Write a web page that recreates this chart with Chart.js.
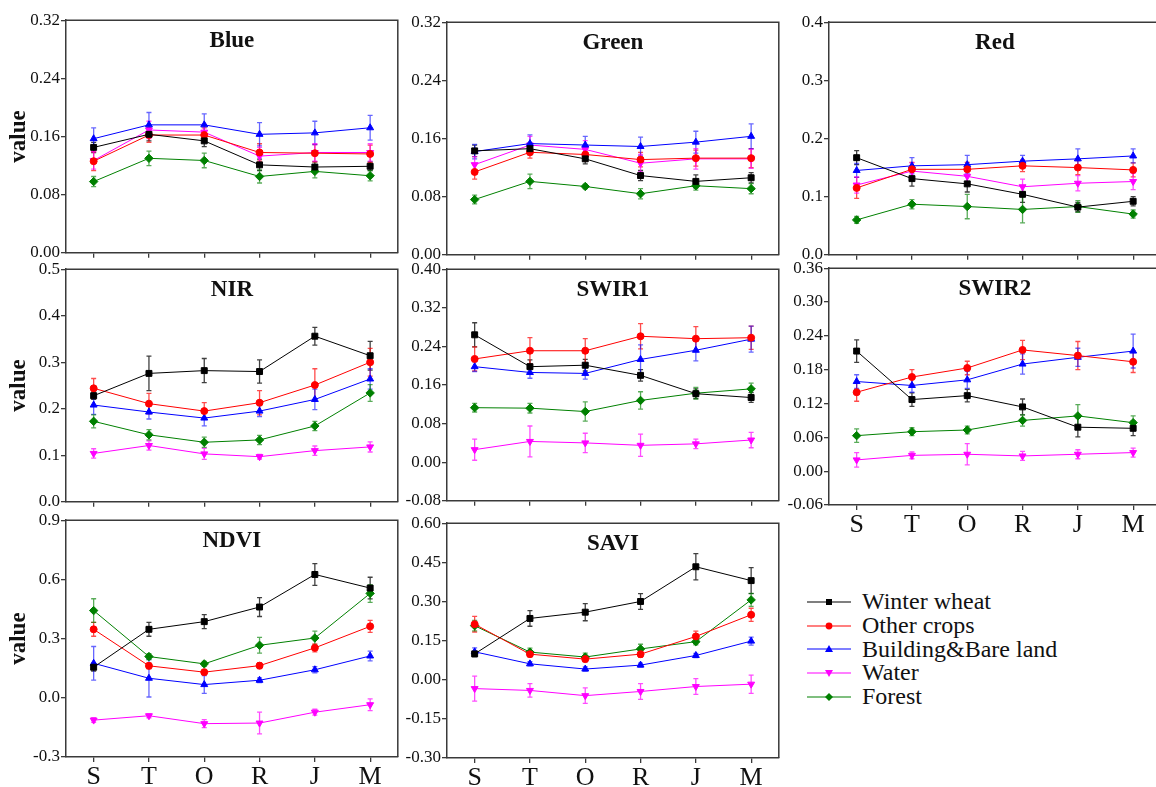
<!DOCTYPE html>
<html>
<head>
<meta charset="utf-8">
<script src="https://cdn.jsdelivr.net/npm/chart.js@4.4.1/dist/chart.umd.min.js"></script>
<style>
body { margin: 0; width: 1156px; height: 787px; overflow: hidden; background: #fff; position: relative; font-family: "Liberation Serif", serif; }
canvas { position: absolute; }
#legend { position: absolute; left: 807px; top: 590px; }
.item { display: flex; align-items: center; height: 23.7px; font-size: 24px; color: #111; white-space: nowrap; }
.item svg { margin-right: 11px; }
</style>
</head>
<body>
<div id="legend"></div>
<script>
const months = ['S', 'T', 'O', 'R', 'J', 'M'];
const classes = ['Winter wheat', 'Other crops', 'Building&Bare land', 'Water', 'Forest'];

// rows follow classes order
const blueMean = [
    [0.145, 0.163, 0.154, 0.121, 0.118, 0.119],
    [0.126, 0.162, 0.162, 0.138, 0.137, 0.136],
    [0.157, 0.176, 0.176, 0.163, 0.165, 0.172],
    [0.127, 0.169, 0.166, 0.133, 0.138, 0.138],
    [0.098, 0.130, 0.127, 0.105, 0.112, 0.106]
];
const blueErr = [
    [0.007, 0.009, 0.008, 0.008, 0.007, 0.006],
    [0.013, 0.010, 0.010, 0.012, 0.012, 0.012],
    [0.015, 0.017, 0.015, 0.016, 0.016, 0.017],
    [0.012, 0.012, 0.011, 0.012, 0.012, 0.012],
    [0.007, 0.010, 0.010, 0.009, 0.009, 0.007]
];
const greenMean = [
    [0.143, 0.146, 0.132, 0.109, 0.101, 0.106],
    [0.114, 0.141, 0.138, 0.131, 0.133, 0.133],
    [0.142, 0.153, 0.151, 0.149, 0.155, 0.163],
    [0.124, 0.151, 0.145, 0.126, 0.132, 0.132],
    [0.076, 0.101, 0.094, 0.084, 0.095, 0.091]
];
const greenErr = [
    [0.008, 0.008, 0.007, 0.007, 0.009, 0.007],
    [0.010, 0.008, 0.009, 0.010, 0.011, 0.013],
    [0.010, 0.012, 0.012, 0.013, 0.015, 0.017],
    [0.011, 0.012, 0.012, 0.012, 0.014, 0.013],
    [0.006, 0.010, 0.003, 0.007, 0.006, 0.007]
];
const redMean = [
    [0.167, 0.131, 0.122, 0.104, 0.082, 0.092],
    [0.115, 0.147, 0.147, 0.153, 0.150, 0.146],
    [0.145, 0.153, 0.155, 0.161, 0.165, 0.170],
    [0.120, 0.144, 0.135, 0.117, 0.123, 0.126],
    [0.060, 0.087, 0.083, 0.078, 0.083, 0.070]
];
const redErr = [
    [0.012, 0.013, 0.014, 0.014, 0.008, 0.008],
    [0.018, 0.012, 0.012, 0.010, 0.012, 0.012],
    [0.012, 0.014, 0.016, 0.010, 0.017, 0.012],
    [0.014, 0.014, 0.014, 0.013, 0.013, 0.014],
    [0.006, 0.008, 0.021, 0.023, 0.010, 0.007]
];
const nirMean = [
    [0.228, 0.276, 0.282, 0.280, 0.356, 0.314],
    [0.244, 0.211, 0.195, 0.213, 0.251, 0.300],
    [0.208, 0.193, 0.180, 0.195, 0.220, 0.264],
    [0.104, 0.121, 0.103, 0.097, 0.110, 0.118],
    [0.173, 0.144, 0.128, 0.133, 0.163, 0.234]
];
const nirErr = [
    [0.008, 0.037, 0.026, 0.025, 0.019, 0.031],
    [0.021, 0.022, 0.018, 0.026, 0.035, 0.030],
    [0.020, 0.015, 0.017, 0.012, 0.022, 0.022],
    [0.010, 0.010, 0.012, 0.005, 0.010, 0.011],
    [0.014, 0.011, 0.011, 0.010, 0.010, 0.018]
];
const swir1Mean = [
    [0.264, 0.198, 0.201, 0.180, 0.142, 0.134],
    [0.214, 0.231, 0.231, 0.261, 0.256, 0.258],
    [0.198, 0.186, 0.184, 0.213, 0.232, 0.255],
    [0.026, 0.043, 0.040, 0.035, 0.038, 0.046],
    [0.113, 0.112, 0.105, 0.128, 0.143, 0.152]
];
const swir1Err = [
    [0.025, 0.014, 0.012, 0.012, 0.010, 0.010],
    [0.025, 0.027, 0.025, 0.026, 0.025, 0.024],
    [0.010, 0.012, 0.012, 0.030, 0.022, 0.027],
    [0.022, 0.032, 0.020, 0.023, 0.010, 0.016],
    [0.009, 0.010, 0.020, 0.018, 0.012, 0.012]
];
const swir2Mean = [
    [0.213, 0.127, 0.134, 0.114, 0.078, 0.076],
    [0.140, 0.167, 0.183, 0.215, 0.205, 0.194],
    [0.159, 0.152, 0.162, 0.190, 0.202, 0.213],
    [0.020, 0.028, 0.030, 0.027, 0.030, 0.033],
    [0.063, 0.070, 0.073, 0.090, 0.098, 0.086]
];
const swir2Err = [
    [0.020, 0.012, 0.011, 0.014, 0.017, 0.013],
    [0.016, 0.013, 0.012, 0.017, 0.025, 0.019],
    [0.012, 0.012, 0.015, 0.018, 0.016, 0.030],
    [0.013, 0.006, 0.019, 0.008, 0.008, 0.008],
    [0.012, 0.007, 0.007, 0.010, 0.020, 0.012]
];
const ndviMean = [
    [0.155, 0.347, 0.386, 0.460, 0.625, 0.556],
    [0.347, 0.162, 0.130, 0.163, 0.253, 0.362],
    [0.175, 0.099, 0.067, 0.089, 0.142, 0.212],
    [-0.113, -0.091, -0.131, -0.128, -0.073, -0.035],
    [0.442, 0.209, 0.172, 0.266, 0.303, 0.529]
];
const ndviErr = [
    [0.020, 0.035, 0.035, 0.048, 0.055, 0.055],
    [0.035, 0.015, 0.010, 0.015, 0.020, 0.030],
    [0.085, 0.095, 0.045, 0.012, 0.016, 0.025],
    [0.012, 0.010, 0.020, 0.055, 0.015, 0.030],
    [0.060, 0.015, 0.012, 0.040, 0.035, 0.045]
];
const saviMean = [
    [0.099, 0.235, 0.259, 0.300, 0.433, 0.380],
    [0.213, 0.098, 0.079, 0.098, 0.166, 0.249],
    [0.107, 0.061, 0.041, 0.056, 0.093, 0.148],
    [-0.034, -0.041, -0.061, -0.045, -0.026, -0.017],
    [0.207, 0.106, 0.087, 0.118, 0.146, 0.306]
];
const saviErr = [
    [0.010, 0.030, 0.033, 0.030, 0.050, 0.050],
    [0.030, 0.010, 0.010, 0.012, 0.020, 0.025],
    [0.015, 0.008, 0.008, 0.008, 0.008, 0.015],
    [0.048, 0.026, 0.030, 0.030, 0.030, 0.035],
    [0.020, 0.015, 0.015, 0.018, 0.012, 0.025]
];

const blueTicks = [0, 0.08, 0.16, 0.24, 0.32];
const greenTicks = [0, 0.08, 0.16, 0.24, 0.32];
const redTicks = [0, 0.1, 0.2, 0.3, 0.4];
const nirTicks = [0, 0.1, 0.2, 0.3, 0.4, 0.5];
const swir1Ticks = [-0.08, 0, 0.08, 0.16, 0.24, 0.32, 0.40];
const swir2Ticks = [-0.06, 0, 0.06, 0.12, 0.18, 0.24, 0.30, 0.36];
const ndviTicks = [-0.3, 0, 0.3, 0.6, 0.9];
const saviTicks = [-0.30, -0.15, 0, 0.15, 0.30, 0.45, 0.60];

const colors = ['#000000', '#ff0000', '#0000ff', '#ff00ff', '#008000'];
const errColors = ['rgba(0,0,0,0.75)', 'rgba(255,0,0,0.7)', 'rgba(0,0,255,0.6)', 'rgba(255,0,255,0.7)', 'rgba(0,128,0,0.65)'];
const markers = ['rect', 'circle', 'triangle', 'triangle', 'rectRot'];
const rotations = [0, 0, 0, 180, 0];
const radii = [4.2, 3.5, 4, 4, 4.2];
const serif = '"Liberation Serif", "Times New Roman", serif';
const axisColor = '#3a3a3a';

const errorBars = {
    id: 'errorBars',
    beforeDatasetsDraw(chart) {
        const ctx = chart.ctx;
        const y = chart.scales.y;
        chart.data.datasets.forEach((ds, k) => {
            const meta = chart.getDatasetMeta(k);
            ctx.save();
            ctx.strokeStyle = errColors[k];
            ctx.lineWidth = 1.3;
            meta.data.forEach((pt, i) => {
                const v = ds.data[i], e = ds.err[i];
                const top = y.getPixelForValue(v + e);
                const bot = y.getPixelForValue(v - e);
                ctx.beginPath();
                ctx.moveTo(pt.x, top); ctx.lineTo(pt.x, bot);
                ctx.moveTo(pt.x - 2.5, top); ctx.lineTo(pt.x + 2.5, top);
                ctx.moveTo(pt.x - 2.5, bot); ctx.lineTo(pt.x + 2.5, bot);
                ctx.stroke();
            });
            ctx.restore();
        });
    }
};

const frame = {
    id: 'frame',
    afterDraw(chart, args, opts) {
        const {left, top, right, bottom} = chart.chartArea;
        const ctx = chart.ctx;
        ctx.save();
        ctx.strokeStyle = axisColor;
        ctx.lineWidth = 1.5;
        ctx.beginPath();
        ctx.moveTo(left, top); ctx.lineTo(right, top); ctx.lineTo(right, bottom);
        ctx.stroke();
        ctx.font = 'bold 23px ' + serif;
        ctx.fillStyle = '#111';
        ctx.textAlign = 'center';
        ctx.textBaseline = 'middle';
        ctx.fillText(opts.text, (left + right) / 2, top + 21);
        ctx.restore();
    }
};

function makePanel(box, title, means, errs, ticks, decimals, yTitle, xLabels) {
    const [l, t, r, b] = box;
    const axisW = yTitle ? l : 60;
    const padTop = 10;
    const xH = xLabels ? 30 : 8;
    const canvas = document.createElement('canvas');
    const w = axisW + (r - l) + 2;
    const h = padTop + (b - t) + xH;
    canvas.width = w;
    canvas.height = h;
    canvas.style.width = w + 'px';
    canvas.style.height = h + 'px';
    canvas.style.left = (l - axisW) + 'px';
    canvas.style.top = (t - padTop) + 'px';
    document.body.appendChild(canvas);

    new Chart(canvas, {
        type: 'line',
        data: {
            labels: months,
            datasets: classes.map((name, k) => ({
                label: name,
                data: means[k],
                err: errs[k],
                borderColor: colors[k],
                backgroundColor: colors[k],
                borderWidth: 1,
                pointStyle: markers[k],
                pointRotation: rotations[k],
                pointRadius: radii[k],
                pointBorderWidth: 1,
                tension: 0
            }))
        },
        options: {
            responsive: false,
            animation: false,
            events: [],
            layout: { padding: { top: padTop, right: 2, left: 0, bottom: 0 } },
            plugins: {
                legend: { display: false },
                tooltip: { enabled: false },
                frame: { text: title }
            },
            scales: {
                x: {
                    offset: true,
                    grid: { offset: false, drawOnChartArea: false, tickLength: 5, color: axisColor, lineWidth: 1.3 },
                    border: { color: axisColor, width: 1.5 },
                    ticks: { display: xLabels, font: { family: serif, size: 26 }, color: '#111', padding: 0, maxRotation: 0 },
                    afterFit: s => { s.height = xH; }
                },
                y: {
                    min: ticks[0],
                    max: ticks[ticks.length - 1],
                    afterBuildTicks: s => { s.ticks = ticks.map(v => ({ value: v })); },
                    grid: { drawOnChartArea: false, tickLength: 5, color: axisColor, lineWidth: 1.3 },
                    border: { color: axisColor, width: 1.5 },
                    ticks: {
                        font: { family: serif, size: 17 },
                        color: '#111',
                        padding: 1,
                        callback: v => Number(v).toFixed(decimals)
                    },
                    title: {
                        display: yTitle,
                        text: 'value',
                        font: { family: serif, size: 23, weight: 'bold' },
                        color: '#111',
                        padding: { top: 5, bottom: 0 }
                    },
                    afterFit: s => { s.width = axisW; }
                }
            }
        },
        plugins: [errorBars, frame]
    });
}

makePanel([66, 19, 401, 256], 'Blue', blueMean, blueErr, blueTicks, 2, true, false);
makePanel([447, 21, 782, 258], 'Green', greenMean, greenErr, greenTicks, 2, false, false);
makePanel([829, 21, 1164, 258], 'Red', redMean, redErr, redTicks, 1, false, false);
makePanel([66, 268, 401, 505], 'NIR', nirMean, nirErr, nirTicks, 1, true, false);
makePanel([447, 268, 782, 504], 'SWIR1', swir1Mean, swir1Err, swir1Ticks, 2, false, false);
makePanel([829, 267, 1164, 505], 'SWIR2', swir2Mean, swir2Err, swir2Ticks, 2, false, true);
makePanel([66, 519, 401, 757], 'NDVI', ndviMean, ndviErr, ndviTicks, 1, true, true);
makePanel([447, 522, 782, 758], 'SAVI', saviMean, saviErr, saviTicks, 2, false, true);

// legend: line + marker sample, then the class name
const markerSvg = [
    '<rect x="19" y="4" width="6" height="6" fill="#000"/>',
    '<circle cx="22" cy="7" r="3.4" fill="#ff0000"/>',
    '<polygon points="22,3 26,10 18,10" fill="#0000ff"/>',
    '<polygon points="22,11 26,4 18,4" fill="#ff00ff"/>',
    '<polygon points="22,3 26,7 22,11 18,7" fill="#008000"/>'
];
const legend = document.getElementById('legend');
classes.forEach((name, k) => {
    legend.insertAdjacentHTML('beforeend',
        `<div class="item">
            <svg width="44" height="14"><line x1="0" y1="7" x2="44" y2="7" stroke="${colors[k]}" stroke-width="1.2"/>${markerSvg[k]}</svg>
            <span>${name}</span>
        </div>`);
});
</script>
</body>
</html>
